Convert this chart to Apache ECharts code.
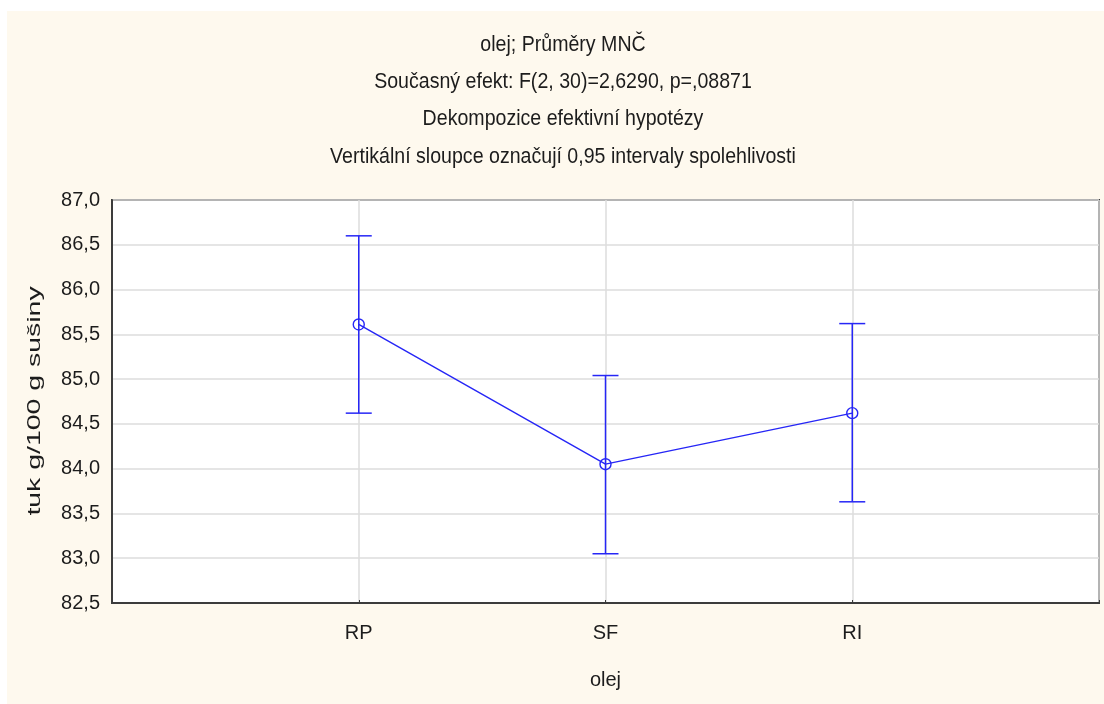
<!DOCTYPE html>
<html>
<head>
<meta charset="utf-8">
<script src="https://cdn.jsdelivr.net/npm/echarts@6/dist/echarts.min.js"></script>
<style>
  html, body { margin: 0; padding: 0; background: #ffffff; }
  #chart { width: 1104px; height: 704px; }
</style>
</head>
<body>
<div id="chart"></div>
<script>
// Least-squares means of fat content per oil type with 95% confidence limits
const categories = ['RP', 'SF', 'RI'];
const means = [85.61, 84.05, 84.62];
const lowerCI = [84.62, 83.05, 83.63];
const upperCI = [86.60, 85.04, 85.62];
const titleLines = [
  'olej; Průměry MNČ',
  'Současný efekt: F(2, 30)=2,6290, p=,08871',
  'Dekompozice efektivní hypotézy',
  'Vertikální sloupce označují 0,95 intervaly spolehlivosti'
];
const yTicks = { min: 82.5, max: 87.0, step: 0.5 };
const xName = 'olej';
const yName = 'tuk g/100 g sušiny';

const BLUE = '#2626f6';
const TEXT = '#1c1c1c';
const SANS = '"Liberation Sans", Arial, sans-serif';

// categories sit at positions 1..n on a 0..n+1 axis
const meanData = means.map((m, i) => [i + 1, m]);
const ciData = means.map((m, i) => [i + 1, lowerCI[i], upperCI[i]]);

const chart = echarts.init(document.getElementById('chart'), null, { renderer: 'canvas' });

// header lines, set in a condensed cut
const titleCentres = [45, 82, 119, 157];
const titleGraphics = titleLines.map((t, i) => ({
  type: 'text',
  x: 563,
  y: titleCentres[i],
  scaleX: 0.89,
  style: {
    text: t,
    fill: TEXT,
    font: '22px ' + SANS,
    align: 'center',
    verticalAlign: 'middle'
  },
  silent: true
}));

chart.setOption({
  backgroundColor: '#fef9ee',
  animation: false,
  graphic: [
    { type: 'rect', x: 0, y: 0, shape: { width: 1104, height: 11 }, style: { fill: '#ffffff' }, silent: true },
    { type: 'rect', x: 0, y: 0, shape: { width: 7, height: 704 }, style: { fill: '#ffffff' }, silent: true },
    ...titleGraphics,
    {
      // y-axis caption, wide-set and rotated
      type: 'text',
      x: 35,
      y: 401,
      rotation: Math.PI / 2,
      scaleX: 1.58,
      style: {
        text: yName,
        fill: TEXT,
        font: '18px ' + SANS,
        align: 'center',
        verticalAlign: 'middle'
      },
      silent: true
    }
  ],
  grid: {
    left: 112, right: 5, top: 200, bottom: 101,
    show: true, backgroundColor: '#ffffff', borderColor: '#3c3c3c', borderWidth: 2
  },
  xAxis: {
    type: 'value',
    min: 0, max: categories.length + 1, interval: 1,
    name: xName,
    nameLocation: 'middle',
    nameGap: 67,
    nameTextStyle: { fontFamily: SANS, fontSize: 20, color: TEXT },
    axisLine: { show: true, lineStyle: { color: '#3c3c3c', width: 2 } },
    axisTick: { show: true, inside: true, length: 3, lineStyle: { color: '#3c3c3c' } },
    axisLabel: {
      margin: 20,
      fontFamily: SANS, fontSize: 20, color: TEXT,
      formatter: v => (v >= 1 && v <= categories.length) ? categories[v - 1] : ''
    },
    splitLine: { show: true, lineStyle: { color: '#dddddd', width: 1.5 } }
  },
  yAxis: {
    type: 'value',
    min: yTicks.min, max: yTicks.max, interval: yTicks.step,
    axisLine: { show: true, lineStyle: { color: '#3c3c3c', width: 2 } },
    axisTick: { show: false },
    axisLabel: {
      margin: 12,
      fontFamily: SANS, fontSize: 20, color: TEXT,
      formatter: v => v.toFixed(1).replace('.', ',')
    },
    splitLine: { show: true, lineStyle: { color: '#dddddd', width: 1.5 } }
  },
  series: [
    {
      type: 'custom',
      name: 'CI',
      data: ciData,
      z: 3,
      renderItem: (params, api) => {
        const x = api.value(0);
        const lo = api.coord([x, api.value(1)]);
        const hi = api.coord([x, api.value(2)]);
        const half = 13;
        const style = { stroke: BLUE, lineWidth: 1.5 };
        return {
          type: 'group',
          children: [
            { type: 'line', shape: { x1: lo[0], y1: lo[1], x2: hi[0], y2: hi[1] }, style },
            { type: 'line', shape: { x1: hi[0] - half, y1: hi[1], x2: hi[0] + half, y2: hi[1] }, style },
            { type: 'line', shape: { x1: lo[0] - half, y1: lo[1], x2: lo[0] + half, y2: lo[1] }, style }
          ]
        };
      }
    },
    {
      type: 'line',
      name: 'Průměr',
      data: meanData,
      z: 4,
      symbol: 'circle',
      symbolSize: 11,
      lineStyle: { color: BLUE, width: 1.4 },
      itemStyle: { color: 'rgba(0,0,0,0)', borderColor: BLUE, borderWidth: 1.4 }
    }
  ]
});
</script>
</body>
</html>
